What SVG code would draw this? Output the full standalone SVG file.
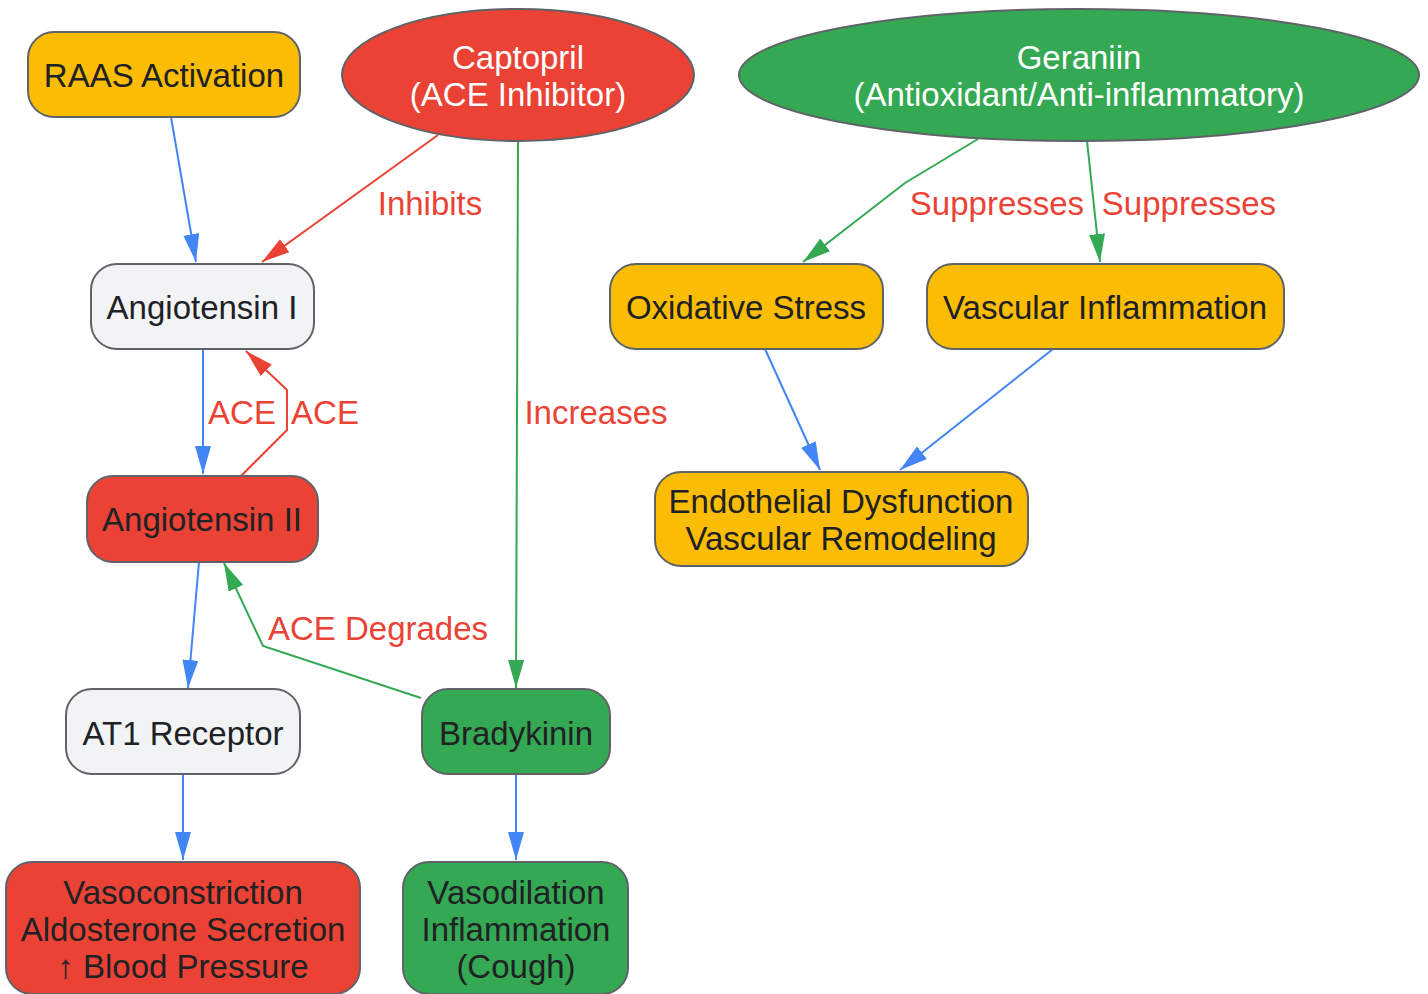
<svg xmlns="http://www.w3.org/2000/svg" width="1428" height="994" viewBox="0 0 1428 994">
<style>
.n{stroke:#5f6368;stroke-width:2}
.y{fill:#fbbc04}.r{fill:#ea4335}.g{fill:#34a853}.w{fill:#f1f3f4}
text{font-family:"Liberation Sans",Arial,sans-serif;font-size:33px;text-anchor:middle}
.t{fill:#202124}.tw{fill:#ffffff}
.l{fill:#ea4335}
.e{fill:none;stroke-width:2}
.eb{stroke:#4285f4}.er{stroke:#ea4335}.eg{stroke:#34a853}
</style>
<defs>
<marker id="ab" viewBox="0 0 28 16" refX="28" refY="8" markerWidth="28" markerHeight="16" markerUnits="userSpaceOnUse" orient="auto"><path d="M0,0L28,8L0,16z" fill="#4285f4"/></marker>
<marker id="ar" viewBox="0 0 28 16" refX="28" refY="8" markerWidth="28" markerHeight="16" markerUnits="userSpaceOnUse" orient="auto"><path d="M0,0L28,8L0,16z" fill="#ea4335"/></marker>
<marker id="ag" viewBox="0 0 28 16" refX="28" refY="8" markerWidth="28" markerHeight="16" markerUnits="userSpaceOnUse" orient="auto"><path d="M0,0L28,8L0,16z" fill="#34a853"/></marker>
</defs>
<g id="connectors">
<path class="e eb" d="M171,117L196,262" marker-end="url(#ab)"/>
<path class="e er" d="M438,135L262,262" marker-end="url(#ar)"/>
<path class="e eg" d="M518,141L516,688" marker-end="url(#ag)"/>
<path class="e eg" d="M978,139L905,183L803,262" marker-end="url(#ag)"/>
<path class="e eg" d="M1087,141L1100,262" marker-end="url(#ag)"/>
<path class="e eb" d="M203,349L203,474" marker-end="url(#ab)"/>
<path class="e er" d="M241,476L287,430L287,390L246,351" marker-end="url(#ar)"/>
<path class="e eb" d="M199,562L188,688" marker-end="url(#ab)"/>
<path class="e eg" d="M421,698L263,646L224,563" marker-end="url(#ag)"/>
<path class="e eb" d="M183,774L183,860" marker-end="url(#ab)"/>
<path class="e eb" d="M516,774L516,860" marker-end="url(#ab)"/>
<path class="e eb" d="M765,349L820,470" marker-end="url(#ab)"/>
<path class="e eb" d="M1053,349L900,470" marker-end="url(#ab)"/>
<text class="l" x="430" y="215">Inhibits</text>
<text class="l" x="596" y="424">Increases</text>
<text class="l" x="997" y="215">Suppresses</text>
<text class="l" x="1189" y="215">Suppresses</text>
<text class="l" x="242" y="424">ACE</text>
<text class="l" x="325" y="424">ACE</text>
<text class="l" x="378" y="640">ACE Degrades</text>
</g>
<g id="raas"><rect class="n y" x="28" y="32" width="272" height="85" rx="26"/><text class="t" x="164" y="87">RAAS Activation</text></g>
<g id="captopril"><ellipse class="n r" cx="518" cy="75" rx="176" ry="66"/><text class="tw" x="518" y="69">Captopril</text><text class="tw" x="518" y="106">(ACE Inhibitor)</text></g>
<g id="geraniin"><ellipse class="n g" cx="1079" cy="75" rx="340" ry="66"/><text class="tw" x="1079" y="69">Geraniin</text><text class="tw" x="1079" y="106">(Antioxidant/Anti-inflammatory)</text></g>
<g id="ang1"><rect class="n w" x="91" y="264" width="223" height="85" rx="26"/><text class="t" x="202" y="319">Angiotensin I</text></g>
<g id="oxstress"><rect class="n y" x="610" y="264" width="273" height="85" rx="26"/><text class="t" x="746" y="319">Oxidative Stress</text></g>
<g id="vascinfl"><rect class="n y" x="927" y="264" width="357" height="85" rx="26"/><text class="t" x="1105" y="319">Vascular Inflammation</text></g>
<g id="endo"><rect class="n y" x="655" y="472" width="373" height="94" rx="26"/><text class="t" x="841" y="513">Endothelial Dysfunction</text><text class="t" x="841" y="550">Vascular Remodeling</text></g>
<g id="ang2"><rect class="n r" x="87" y="476" width="231" height="86" rx="26"/><text class="t" x="202" y="531">Angiotensin II</text></g>
<g id="at1"><rect class="n w" x="66" y="689" width="234" height="85" rx="26"/><text class="t" x="183" y="745">AT1 Receptor</text></g>
<g id="bradykinin"><rect class="n g" x="422" y="689" width="188" height="85" rx="26"/><text class="t" x="516" y="745">Bradykinin</text></g>
<g id="vasocon"><rect class="n r" x="6" y="862" width="354" height="132" rx="26"/><text class="t" x="183" y="904">Vasoconstriction</text><text class="t" x="183" y="941">Aldosterone Secretion</text><text class="t" x="183" y="978">↑ Blood Pressure</text></g>
<g id="vasodil"><rect class="n g" x="403" y="862" width="225" height="132" rx="26"/><text class="t" x="516" y="904">Vasodilation</text><text class="t" x="516" y="941">Inflammation</text><text class="t" x="516" y="978">(Cough)</text></g>
</svg>
